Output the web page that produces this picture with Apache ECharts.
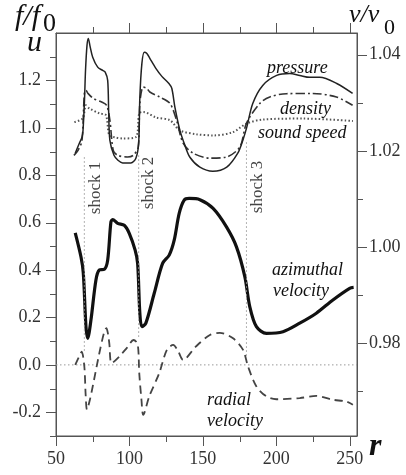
<!DOCTYPE html>
<html><head><meta charset="utf-8">
<script src="https://cdn.jsdelivr.net/npm/echarts@6/dist/echarts.min.js"></script>
<style>html,body{margin:0;padding:0;background:#fff}#c{width:406px;height:475px}</style>
</head><body><div id="c"></div>
<script>
// ---- data: [r, value] ----
const pressure = [[63.1,0.893],[65.9,0.935],[67.7,0.96],[68.4,0.989],[69.4,1.116],[70.1,1.242],[71.1,1.347],[72.0,1.377],[73.1,1.347],[75.0,1.298],[78.4,1.256],[81.8,1.242],[83.5,1.235],[85.2,1.2],[85.9,1.061],[86.7,0.947],[89.5,0.884],[92.2,0.863],[95.4,0.852],[101.0,0.852],[104.4,0.872],[106.3,0.935],[107.1,1.128],[108.5,1.272],[110.1,1.319],[111.9,1.314],[113.9,1.293],[118.0,1.251],[122.1,1.217],[126.9,1.187],[128.9,1.166],[131.0,1.086],[134.4,0.989],[137.8,0.926],[141.2,0.876],[148.0,0.834],[156.8,0.817],[166.3,0.834],[173.8,0.893],[177.2,0.947],[179.9,1.002],[184.0,1.103],[190.8,1.179],[200.3,1.221],[209.2,1.229],[216.0,1.221],[222.8,1.213],[229.6,1.213],[241.2,1.187],[252.0,1.145]];
const density = [[62.2,0.884],[65,0.905],[67.7,0.947],[69.3,1.144],[70.4,1.158],[71.8,1.145],[75.4,1.124],[81.1,1.109],[84.5,1.095],[86.7,1.032],[89,0.905],[92,0.884],[98.8,0.877],[102.6,0.884],[106,0.919],[107.1,1.103],[109.4,1.172],[111.9,1.166],[113.9,1.151],[120.7,1.13],[127.6,1.103],[132.1,1.032],[136.6,0.935],[143.4,0.893],[154.8,0.872],[166.1,0.877],[175.2,0.919],[179.7,1.019],[188.8,1.103],[195.6,1.13],[206.9,1.144],[224.8,1.145],[241,1.13],[252,1.095]];
const soundSpeed = [[62.5,1.024],[68.2,1.04],[70.4,1.095],[72.7,1.082],[79.5,1.061],[84,1.053],[86.3,0.968],[90.1,0.96],[95.4,0.955],[104.4,0.961],[106.7,1.061],[109.4,1.067],[118,1.044],[127.6,1.032],[134.4,0.989],[145.7,0.973],[157,0.968],[170.6,0.982],[179.7,1.018],[191,1.035],[218.2,1.039],[252.2,1.029]];
const azimuthal = [[63.1,0.557],[67,0.456],[68.6,0.387],[70.4,0.161],[71.6,0.112],[73.8,0.189],[77.2,0.358],[79.5,0.4],[82.9,0.403],[85.2,0.442],[87.4,0.603],[88.6,0.613],[92,0.597],[96.5,0.589],[99.9,0.555],[103.9,0.484],[105.6,0.428],[107.1,0.218],[108.5,0.161],[111.2,0.176],[116.9,0.302],[122.6,0.428],[127.1,0.463],[130.5,0.526],[133.9,0.639],[137.3,0.695],[140.7,0.702],[148,0.697],[157,0.66],[166.1,0.582],[172.9,0.498],[178.6,0.372],[182,0.245],[186.5,0.161],[193.3,0.133],[204.6,0.14],[216,0.176],[227.3,0.218],[238.6,0.274],[250,0.323],[252.7,0.327]];
const radial = [[63.1,0],[66.3,0.042],[67.5,0.056],[69.3,-0.007],[70.2,-0.126],[71.1,-0.189],[73.1,-0.147],[75,-0.091],[79.5,0.049],[82.7,0.135],[84.3,0.155],[85.3,0.135],[86.3,0.091],[87.9,0.007],[93.1,0.035],[98.3,0.072],[102.8,0.105],[105.6,0.088],[106.7,-0.035],[108.2,-0.147],[109.4,-0.211],[113.5,-0.133],[120.3,-0.035],[125.5,0.063],[129.8,0.084],[133,0.06],[136.6,0.021],[145.2,0.077],[154.8,0.126],[161.6,0.135],[170.6,0.112],[177.4,0.063],[180.8,-0.007],[186.5,-0.091],[193.3,-0.133],[200.1,-0.145],[216,-0.14],[227.3,-0.131],[238.6,-0.147],[247.7,-0.155],[252.2,-0.168]];
const zeroLine = [[50, 0], [255, 0]];
const shockR = [69.3, 106.3, 179.7];
const shockTop = [0.876, 0.884, 0.939];
const shockBottom = [0.055, 0.118, 0.034];
const shockNames = ['shock 1', 'shock 2', 'shock 3'];
// ---- ticks ----
const xMajor = [50, 100, 150, 200, 250];
const xMinor = [75, 125, 175, 225];
const xTopMajor = [100, 150, 200, 250];
const uMajor = [-0.2, 0.0, 0.2, 0.4, 0.6, 0.8, 1.0, 1.2];
const uMinor = [-0.3, -0.1, 0.1, 0.3, 0.5, 0.7, 0.9, 1.1, 1.3];
const vMajor = [0.98, 1.00, 1.02, 1.04];
const vMinor = [0.97, 0.99, 1.01, 1.03];

const serif = "'Liberation Serif','DejaVu Serif',serif";
const axisColor = '#555';
const xRange = {min: 50, max: 255};
const uRange = {min: -0.3, max: 1.4};
const vRange = {min: 0.9607, max: 1.0445};

function xAx(pos, labels) {
  return Object.assign({type:'value', position:pos, splitLine:{show:false},
    axisLine:{show:true, onZero:false, lineStyle:{color:axisColor, width:1}},
    axisTick:{show:false},
    axisLabel: labels ? {show:true, customValues:labels, margin:14, fontFamily:serif, fontSize:18, color:'#333', formatter:v=>String(v)} : {show:false}
  }, xRange);
}
function yAx(pos, range, labels, fmt, margin) {
  return Object.assign({type:'value', position:pos, splitLine:{show:false},
    axisLine:{show:true, onZero:false, lineStyle:{color:axisColor, width:1}},
    axisTick:{show:false},
    axisLabel:{show:true, customValues:labels, margin:margin, fontFamily:serif, fontSize:18, color:'#333', formatter:fmt}
  }, range);
}

function lineSeries(data, color, width, type, smooth) {
  return {type:'line', data:data, xAxisIndex:0, yAxisIndex:0, showSymbol:false, symbol:'none', smooth:smooth,
    silent:true, lineStyle:{color:color, width:width, type:type}};
}

// tick table built from the tick arrays: [side, value, length]
// side: 0 bottom, 1 top, 2 left, 3 right
const tickData = [];
xMajor.forEach(v => tickData.push([0, v, 10]));
xMinor.forEach(v => tickData.push([0, v, 6]));
xTopMajor.forEach(v => tickData.push([1, v, 10]));
xMinor.forEach(v => tickData.push([1, v, 6]));
uMajor.forEach(v => tickData.push([2, v, 10]));
uMinor.forEach(v => tickData.push([2, v, 6]));
vMajor.forEach(v => tickData.push([3, v, 10]));
vMinor.forEach(v => tickData.push([3, v, 6]));
// right-axis value expressed on the left axis (both span the same plot height)
const vToU = v => uRange.min + (v - vRange.min) / (vRange.max - vRange.min) * (uRange.max - uRange.min);

const tickSeries = {
  type:'custom', xAxisIndex:0, yAxisIndex:0, clip:false, silent:true, z:20,
  data: tickData,
  encode: {x: -1, y: -1},
  renderItem: function (params, api) {
    const side = api.value(0), v = api.value(1), len = api.value(2);
    let p, x1, y1, x2, y2;
    if (side === 0) { p = api.coord([v, uRange.min]); x1 = x2 = Math.round(p[0]) + 0.5; y1 = p[1]; y2 = p[1] + len; }
    else if (side === 1) { p = api.coord([v, uRange.max]); x1 = x2 = Math.round(p[0]) + 0.5; y1 = p[1]; y2 = p[1] - len; }
    else if (side === 2) { p = api.coord([xRange.min, v]); y1 = y2 = Math.round(p[1]) + 0.5; x1 = p[0]; x2 = p[0] - len; }
    else { p = api.coord([xRange.max, vToU(v)]); y1 = y2 = Math.round(p[1]) + 0.5; x1 = p[0]; x2 = p[0] + len; }
    return {type:'line', shape:{x1:x1, y1:y1, x2:x2, y2:y2}, style:{stroke:axisColor, lineWidth:1, fill:null}};
  }
};

const series = [
  lineSeries(zeroLine, '#999', 1, [1.5, 2.5], false),
  lineSeries(soundSpeed, '#555', 2, [1.5, 2.2], 0.3),
  lineSeries(density, '#333', 1.6, [9, 3, 2, 3], 0.3),
  lineSeries(pressure, '#222', 1.5, 'solid', 0.3),
  lineSeries(radial, '#444', 1.8, [8, 5], 0.3),
  lineSeries(azimuthal, '#111', 3.2, 'solid', 0.3),
];
shockR.forEach((r, i) => {
  series.push(lineSeries([[r, shockTop[i]], [r, shockBottom[i]]], '#999', 1, [1.5, 2.5], false));
});
series.push(tickSeries);

function t(text, x, y, size, extra) {
  return {type:'text', x:x, y:y, silent:true, z:10, style:Object.assign({text:text, fill:'#111', fontFamily:serif,
    fontSize:size, fontStyle:'italic', align:'left', verticalAlign:'middle'}, extra || {})};
}
const graphics = [
  t('f/f', 15, 17, 30),
  t('0', 43, 24, 26, {fontStyle:'normal'}),
  t('u', 27, 43, 30),
  t('v/v', 349, 15, 26),
  t('0', 384, 28, 22, {fontStyle:'normal'}),
  t('r', 369, 447, 32, {fontWeight:'bold'}),
  t('pressure', 267, 68, 18),
  t('density', 280, 109, 18),
  t('sound speed', 258, 133, 18),
  t('azimuthal', 272, 270, 18),
  t('velocity', 273, 291, 18),
  t('radial', 207, 400, 18),
  t('velocity', 207, 421, 18),
];
const shockLabelPos = [[96, 188], [149, 183], [258, 187]];
shockNames.forEach((s, i) => {
  graphics.push({type:'text', x:shockLabelPos[i][0], y:shockLabelPos[i][1], rotation:Math.PI/2, silent:true, z:10,
    style:{text:s, fill:'#444', fontFamily:serif, fontSize:17, align:'center', verticalAlign:'middle'}});
});

const chart = echarts.init(document.getElementById('c'));
chart.setOption({
  animation:false,
  grid:{left:56, right:49, top:33, bottom:39, show:true, borderColor:axisColor, borderWidth:1, backgroundColor:'transparent'},
  xAxis:[ xAx('bottom', xMajor), xAx('top', null) ],
  yAxis:[
    yAx('left', uRange, uMajor, v=>v.toFixed(1), 15),
    yAx('right', vRange, vMajor, v=>v.toFixed(2), 12),
  ],
  series:series,
  graphic:graphics
});
</script></body></html>
